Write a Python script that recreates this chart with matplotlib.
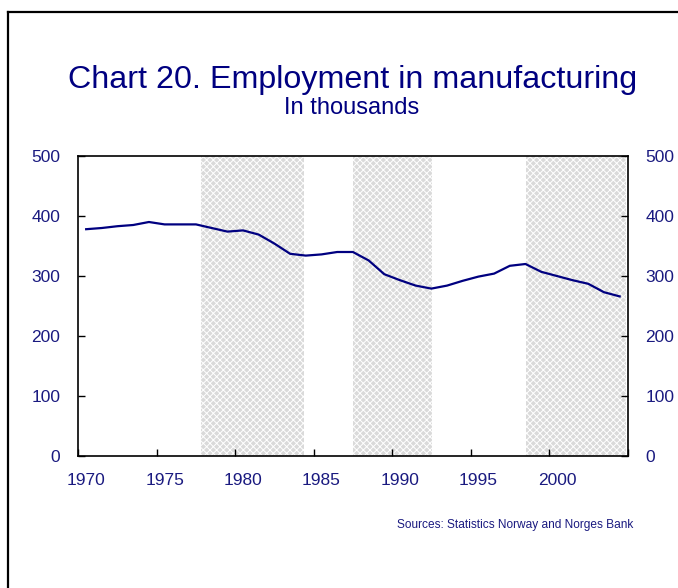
import matplotlib
matplotlib.use("Agg")
import matplotlib.pyplot as plt
from matplotlib.lines import Line2D
import numpy as np

plt.rcParams['font.family'] = ['Liberation Sans', 'DejaVu Sans']
plt.rcParams['hatch.linewidth'] = 0.7

years = list(range(1970, 2005))
employment = [378, 380, 383, 385, 390, 386, 386, 386, 380, 374, 376, 369, 354, 337,
              334, 336, 340, 340, 326, 303, 293, 284, 279, 284, 292, 299, 304, 317,
              320, 307, 300, 293, 287, 273, 266]
shaded_periods = [(1977.85, 1984.4), (1987.5, 1992.55), (1998.55, 2004.9)]
y_ticks = [0, 100, 200, 300, 400, 500]
x_label_years = [1970, 1975, 1980, 1985, 1990, 1995, 2000]

title = "Chart 20. Employment in manufacturing"
subtitle = "In thousands"
source = "Sources: Statistics Norway and Norges Bank"

navy = '#000080'
textc = '#1a1a80'

fig = plt.figure(figsize=(6.78, 5.88), dpi=100)
ax = fig.add_axes([78.3/678, 1-456/588, (627.5-78.3)/678, 300/588])

for a, b in shaded_periods:
    ax.axvspan(a, b, facecolor='#dadada', edgecolor='white', hatch='xxxxx', linewidth=0, zorder=0)

x = np.array(years) + 0.5
ax.plot(x, employment, color=navy, linewidth=1.6, zorder=3)

ax.set_xlim(1970, 2005)
ax.set_ylim(0, 500)
ax.set_yticks(y_ticks)
ax.set_yticklabels([str(v) for v in y_ticks])
ax.set_xticks(list(range(1970, 2006, 5)))
ax.set_xticklabels([])
ax.set_xticks([y + 0.5 for y in x_label_years], minor=True)
ax.set_xticklabels([str(y) for y in x_label_years], minor=True)
ax.tick_params(axis='x', which='major', direction='in', length=5, width=1, color='black')
ax.tick_params(axis='x', which='minor', length=0, pad=12, labelsize=12.5, labelcolor=textc)
ax.tick_params(axis='y', direction='in', length=5, width=1, right=True, labelright=True,
               pad=13, labelsize=12.5, labelcolor=textc)
for s in ax.spines.values():
    s.set_linewidth(1.2)
    s.set_color('black')

fig.text(353/678, 1-88/588, title, ha='center', va='baseline', fontsize=23.2, color=navy)
fig.text(352/678, 1-114/588, subtitle, ha='center', va='baseline', fontsize=17, color=navy)
fig.text(633/678, 1-525/588, source, ha='right', va='center', fontsize=8.6, color=textc)

fig.add_artist(Line2D([8/678, 8/678], [1-12/588, 0], transform=fig.transFigure, color='black', linewidth=1.6))
fig.add_artist(Line2D([8/678, 1], [1-12/588, 1-12/588], transform=fig.transFigure, color='black', linewidth=1.6))

fig.savefig('out.png', dpi=100)
